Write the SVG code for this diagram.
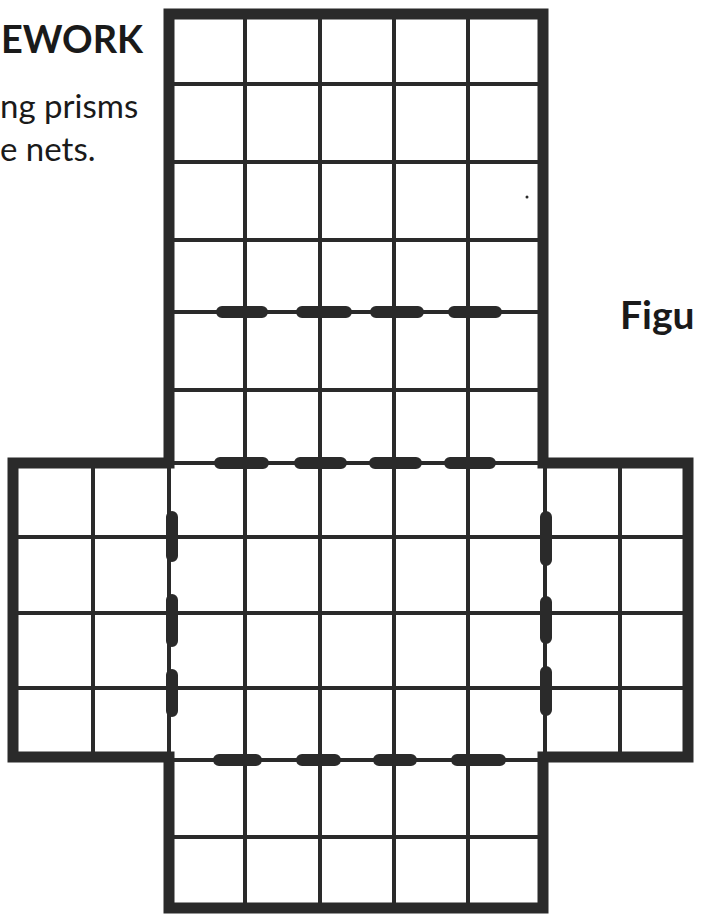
<svg xmlns="http://www.w3.org/2000/svg" width="703" height="917" viewBox="0 0 703 917">
<style>
.thin{stroke:#2a2a2a;stroke-width:4;fill:none;stroke-linecap:square}
.thick{stroke:#2a2a2a;stroke-width:11;fill:none;stroke-linejoin:miter}
.blob{stroke:#2a2a2a;stroke-width:12;stroke-linecap:round;fill:none}
.t{font-family:Lato,"Open Sans","Liberation Sans",sans-serif;fill:#1a1a1a}
</style>
<rect width="703" height="917" fill="#ffffff"/>
<g id="title">
<text class="t" x="1" y="53" font-size="39" font-weight="bold" textLength="142" lengthAdjust="spacingAndGlyphs">EWORK</text>
<text class="t" x="0" y="118" font-size="33">ng prisms</text>
<text class="t" x="0" y="161" font-size="33">e nets.</text>
<text class="t" x="620" y="329" font-size="39" font-weight="bold">Figu</text>
</g>
<g id="grid">
<path class="thin" d="M245,14V908M320,14V908M394,14V908M468,14V908M93,463V757M620,463V757M169,84H543M169,162H543M169,240H543M169,390H543M169,837H543M13,537H688M13,613H688M13,688H688M169,312H543M169,463H545M169,760H543M169,463V760M545,463V760"/>
</g>
<g id="outline">
<path class="thick" d="M169,14H543V463H688V757H543V908H169V757H13V463H169Z"/>
</g>
<g id="fold-lines">
<path class="blob" d="M222,312H262M302,312H346M376,312H418M454,312H496M220,463H263M300,463H341M375,463H416M450,463H490M219,760H256M302,760H335M379,760H411M457,760H500M172,517V556M172,600V641M172,675V711M546,517V560M546,602V638M546,672V710"/>
</g>
<circle cx="527" cy="197" r="1.5" fill="#2a2a2a"/>
</svg>
